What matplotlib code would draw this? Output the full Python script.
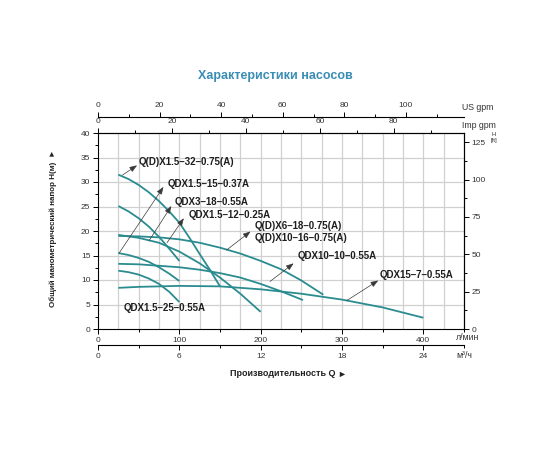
import matplotlib
matplotlib.use('Agg')
import matplotlib.pyplot as plt
from matplotlib.ticker import MultipleLocator, FixedLocator

plt.rcParams['font.family'] = ['Liberation Sans', 'DejaVu Sans']

# ---------------- data (flow in l/min, head in m) ----------------
q_1532 = [25, 37.5, 50, 62.5, 75, 87.5, 100, 112.5, 125, 137.5, 150]
h_1532 = [31.5, 30.6, 29.4, 27.9, 26.1, 24.0, 21.7, 18.6, 15.3, 12.1, 8.7]

q_b = [25, 37.5, 50, 62.5, 75, 87.5, 100]
h_b = [25.1, 24.0, 22.6, 20.9, 18.8, 16.4, 13.9]

q_318 = [25, 50, 75, 100, 125, 150, 175, 200]
h_318 = [19.2, 18.6, 17.6, 15.8, 13.4, 10.5, 7.2, 3.5]

q_618 = [25, 50, 75, 100, 125, 150, 175, 200, 225, 250, 277]
h_618 = [19.0, 18.9, 18.7, 18.3, 17.6, 16.6, 15.4, 13.9, 12.2, 9.9, 7.0]

q_1515 = [25, 37.5, 50, 62.5, 75, 87.5, 100]
h_1515 = [15.5, 15.1, 14.5, 13.7, 12.6, 11.3, 9.8]

q_1010 = [25, 50, 75, 100, 125, 150, 175, 200, 225, 252]
h_1010 = [13.3, 13.2, 12.9, 12.6, 12.1, 11.4, 10.5, 9.2, 7.7, 5.9]

q_1525 = [25, 37.5, 50, 62.5, 75, 87.5, 100]
h_1525 = [11.9, 11.6, 11.1, 10.3, 9.2, 7.6, 5.5]

q_157 = [25, 50, 75, 100, 150, 200, 250, 300, 350, 400]
h_157 = [8.4, 8.6, 8.7, 8.8, 8.7, 8.1, 7.2, 6.0, 4.4, 2.3]

curves = [(q_1532, h_1532), (q_b, h_b), (q_318, h_318), (q_618, h_618),
          (q_1515, h_1515), (q_1010, h_1010), (q_1525, h_1525), (q_157, h_157)]

title = 'Характеристики насосов'
lab_1532 = 'Q(D)X1.5–32–0.75(A)'
lab_1515 = 'QDX1.5–15–0.37A'
lab_318 = 'QDX3–18–0.55A'
lab_1512 = 'QDX1.5–12–0.25A'
lab_618 = 'Q(D)X6–18–0.75(A)\nQ(D)X10–16–0.75(A)'
lab_1010 = 'QDX10–10–0.55A'
lab_157 = 'QDX15–7–0.55A'
lab_1525 = 'QDX1.5–25–0.55A'

us_ticks = [0, 20, 40, 60, 80, 100]
imp_ticks = [0, 20, 40, 60, 80]
m3h_ticks = [0, 6, 12, 18, 24]
ft_ticks = [0, 25, 50, 75, 100, 125]

# ---------------- figure ----------------
W, Hp = 550, 450
fig = plt.figure(figsize=(5.5, 4.5), dpi=100)
fig.patch.set_facecolor('white')

def fx(px):
    return px / W

def fy(py):
    return 1 - py / Hp

ax = fig.add_axes([fx(98), fy(329), (464 - 98) / W, (329 - 133) / Hp])
ax.set_xlim(0, 450)
ax.set_ylim(0, 40)

# grid
for gx in range(25, 450, 25):
    ax.axvline(gx, color='#d0d0d0', lw=0.9, zorder=0)
for gy in range(5, 40, 5):
    ax.axhline(gy, color='#d0d0d0', lw=0.9, zorder=0)

col = '#2b8c90'
for q, h in curves:
    ax.plot(q, h, color=col, lw=1.3, zorder=3, solid_capstyle='butt')

tick_kw = dict(labelsize=6, colors='black', labelcolor='#333333', width=0.7)
for s in ax.spines.values():
    s.set_linewidth(0.8)
    s.set_color('black')

ax.xaxis.set_major_locator(MultipleLocator(100))
ax.xaxis.set_minor_locator(MultipleLocator(50))
ax.yaxis.set_major_locator(MultipleLocator(5))
ax.yaxis.set_minor_locator(MultipleLocator(2.5))
ax.tick_params(which='both', direction='out', top=False, right=False, **tick_kw)
ax.tick_params(which='major', length=3.5, pad=2)
ax.tick_params(which='minor', length=2)

# secondary axes
imp = ax.secondary_xaxis('top', functions=(lambda x: x / 4.54609, lambda x: x * 4.54609))
us = ax.secondary_xaxis(1 + 16 / 196, functions=(lambda x: x / 3.78541, lambda x: x * 3.78541))
m3h = ax.secondary_xaxis(-16 / 196, functions=(lambda x: x * 0.06, lambda x: x / 0.06))
ft = ax.secondary_yaxis('right', functions=(lambda y: y * 3.28084, lambda y: y / 3.28084))

us.xaxis.set_major_locator(FixedLocator(us_ticks))
us.xaxis.set_minor_locator(FixedLocator([10, 30, 50, 70, 90, 110]))
imp.xaxis.set_major_locator(FixedLocator(imp_ticks))
imp.xaxis.set_minor_locator(FixedLocator([10, 30, 50, 70, 90]))
m3h.xaxis.set_major_locator(FixedLocator(m3h_ticks))
m3h.xaxis.set_minor_locator(FixedLocator([3, 9, 15, 21, 27]))
ft.yaxis.set_major_locator(FixedLocator(ft_ticks))
ft.yaxis.set_minor_locator(FixedLocator([12.5, 37.5, 62.5, 87.5, 112.5]))
for sec in [imp, us, m3h, ft]:
    sec.tick_params(which='both', direction='out', **tick_kw)
    sec.tick_params(which='major', length=3.5, pad=2)
    sec.tick_params(which='minor', length=2)
    for s in sec.spines.values():
        s.set_linewidth(0.8)
        s.set_color('black')

# callouts
arrow_kw = dict(arrowstyle='-|>,head_length=0.45,head_width=0.17', color='#3a3a3a',
                lw=0.5, shrinkA=0, shrinkB=0)
txt_kw = dict(fontsize=7, fontweight='bold', color='#1e1e1e', ha='left', va='center',
              linespacing=1.25, zorder=5)

def callout(text, tpos, head, tail):
    ax.annotate('', xy=head, xytext=tail, arrowprops=arrow_kw, zorder=4)
    ax.text(tpos[0], tpos[1], text, **txt_kw)

callout(lab_1532, (50, 34.1), (48, 33.4), (30, 31.4))
callout(lab_1515, (85, 29.6), (80.5, 29.0), (26, 15.5))
callout(lab_318, (94.5, 26.0), (90.2, 25.1), (62.7, 18.0))
callout(lab_1512, (112, 23.3), (105.5, 22.6), (84.8, 17.6))
callout(lab_618, (192, 19.7), (187.5, 19.9), (158, 16.1))
callout(lab_1010, (246, 14.8), (240.5, 13.4), (211.5, 9.7))
callout(lab_157, (346.5, 11.0), (344.5, 9.9), (305.8, 5.8))
ax.text(31, 4.2, lab_1525, **txt_kw)

# titles and unit labels
unit_kw = dict(ha='left', va='center', fontsize=6.3, color='#333333')
fig.text(0.5, fy(76), title, ha='center', va='center', fontsize=9, fontweight='bold',
         color='#3a8db3')
fig.text(fx(462), fy(108), 'US gpm', **unit_kw)
fig.text(fx(462), fy(125), 'Imp gpm', **unit_kw)
fig.text(fx(494), fy(135), 'H', ha='center', va='center', fontsize=4.3, color='#333333')
fig.text(fx(494), fy(140.5), '[ft]', ha='center', va='center', fontsize=4.3, color='#333333')
fig.text(fx(456), fy(338), 'л/мин', **unit_kw)
fig.text(fx(456), fy(355), 'м³/ч', **unit_kw)
fig.text(fx(230), fy(374), 'Производительность Q', ha='left', va='center', fontsize=6.5,
         fontweight='bold', color='#222222')
fig.text(fx(342), fy(374), '►', ha='center', va='center', fontsize=6.5, color='#222222')
fig.text(fx(53), fy(228), 'Общий манометрический напор H(м)  ►', ha='center', va='center',
         rotation=90, fontsize=5.8, fontweight='bold', color='#222222')

fig.savefig('out.png', dpi=100, facecolor='white')
